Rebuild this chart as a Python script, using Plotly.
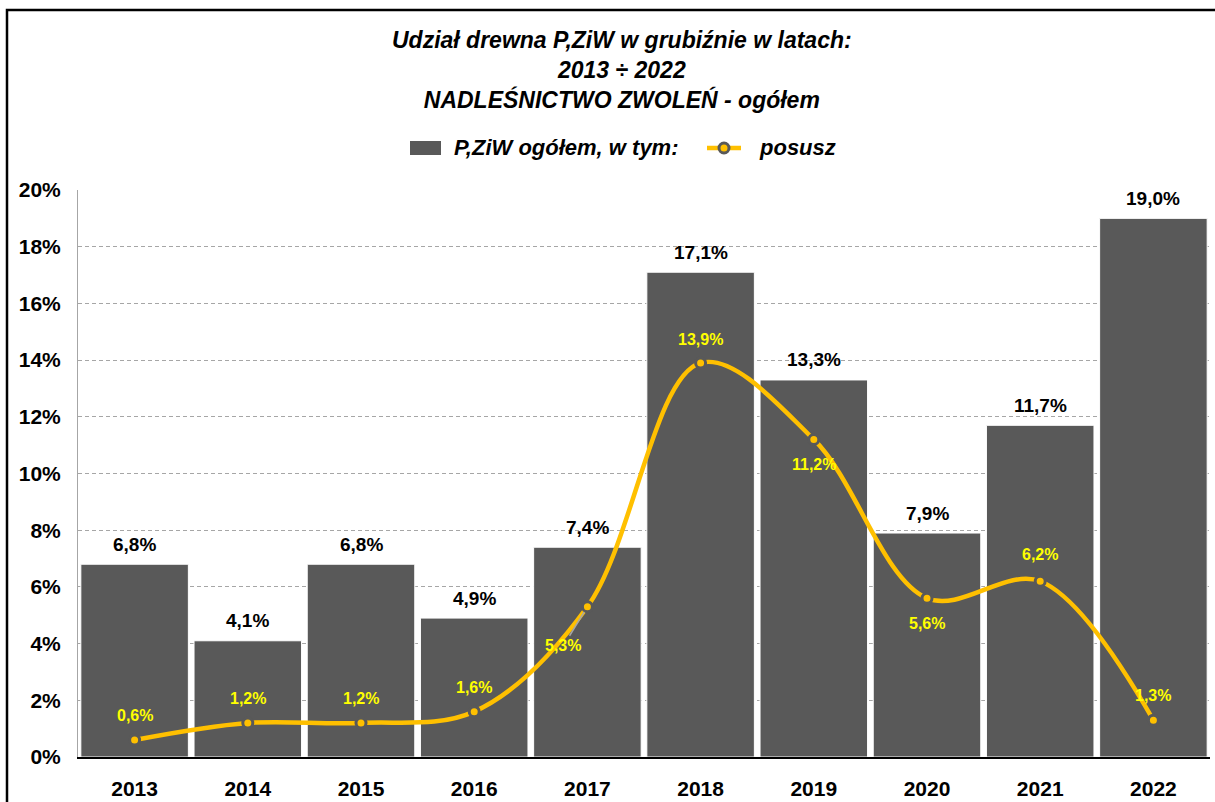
import plotly.graph_objects as go

# Lata i udziały (w ułamkach)
years = ["2013", "2014", "2015", "2016", "2017", "2018", "2019", "2020", "2021", "2022"]
pziw_total = [0.068, 0.041, 0.068, 0.049, 0.074, 0.171, 0.133, 0.079, 0.117, 0.190]
posusz = [0.006, 0.012, 0.012, 0.016, 0.053, 0.139, 0.112, 0.056, 0.062, 0.013]
# przesunięcie etykiet linii (px): dodatnie yshift = nad punktem
posusz_label_shift = [24, 24, 24, 24, -39, 23, -25, -25, 27, 25]
posusz_label_xshift = [0, 0, 0, 0, -24, 0, 0, 0, 0, 0]
# etykiety z linią odniesienia
posusz_leader = [False, False, False, False, True, False, False, False, False, False]
y_ticks = [0.00, 0.02, 0.04, 0.06, 0.08, 0.10, 0.12, 0.14, 0.16, 0.18, 0.20]

BAR_COLOR = "#595959"
LINE_COLOR = "#FFC000"
LABEL_YELLOW = "#FFFF00"
FONT = "Liberation Sans, Arial, sans-serif"

# wymiary obszaru wykresu (px) – do pozycjonowania legendy w układzie paper
W, H = 1215, 802
ML, MR, MT, MB = 78, 5, 190, 45
PW, PH = W - ML - MR, H - MT - MB


def px_x(p):
    return (p - ML) / PW


def px_y(p):
    return (H - MB - p) / PH


def pct(v):
    return f"{v * 100:.1f}%".replace(".", ",")


fig = go.Figure()

fig.add_trace(go.Bar(
    x=years,
    y=pziw_total,
    name="P,ZiW ogółem, w tym:",
    marker=dict(color=BAR_COLOR, line=dict(color="#ffffff", width=1)),
    showlegend=False,
))

fig.add_trace(go.Scatter(
    x=years,
    y=posusz,
    name="posusz",
    mode="lines+markers",
    line=dict(color=LINE_COLOR, width=4.5, shape="spline", smoothing=1.0),
    marker=dict(size=10, color=LINE_COLOR, line=dict(color=BAR_COLOR, width=3)),
    showlegend=False,
    cliponaxis=False,
))

annotations = []

# etykiety słupków (x jako indeks kategorii)
for i, v in enumerate(pziw_total):
    annotations.append(dict(
        x=i, y=v, xref="x", yref="y", text=pct(v), showarrow=False,
        yshift=20, font=dict(family=FONT, size=19, color="#000000", weight="bold"),
    ))

# etykiety linii "posusz"
label_font = dict(family=FONT, size=16, color=LABEL_YELLOW, weight="bold")
for i, (v, s, dx, lead) in enumerate(zip(posusz, posusz_label_shift,
                                         posusz_label_xshift, posusz_leader)):
    if lead:
        annotations.append(dict(
            x=i, y=v, xref="x", yref="y", text=pct(v),
            showarrow=True, ax=dx, ay=-s, axref="pixel", ayref="pixel",
            arrowhead=0, arrowwidth=1.5, arrowcolor="#a6a6a6", standoff=6,
            font=label_font,
        ))
    else:
        annotations.append(dict(
            x=i, y=v, xref="x", yref="y", text=pct(v), showarrow=False,
            xshift=dx, yshift=s, font=label_font,
        ))

# tytuł
annotations.append(dict(
    text="Udział drewna P,ZiW w grubiźnie w latach:<br>2013 ÷ 2022<br>NADLEŚNICTWO ZWOLEŃ - ogółem",
    x=px_x(622), xref="paper", xanchor="center",
    y=px_y(70), yref="paper", yanchor="middle",
    showarrow=False,
    font=dict(family=FONT, size=23, color="#000000", weight="bold", style="italic"),
))

# legenda
legend_font = dict(family=FONT, size=22, color="#000000", weight="bold", style="italic")
annotations.append(dict(
    text="P,ZiW ogółem, w tym:", x=px_x(452), xref="paper", xanchor="left",
    y=px_y(148), yref="paper", yanchor="middle", showarrow=False, font=legend_font,
))
annotations.append(dict(
    text="posusz", x=px_x(757), xref="paper", xanchor="left",
    y=px_y(148), yref="paper", yanchor="middle", showarrow=False, font=legend_font,
))

shapes = [
    # ramka wykresu
    dict(type="rect", xref="paper", yref="paper",
         x0=px_x(7), x1=px_x(1240), y0=px_y(830), y1=px_y(10),
         line=dict(color="#000000", width=2.5),
         fillcolor="rgba(0,0,0,0)", layer="below"),
    # symbol legendy: słupek
    dict(type="rect", xref="paper", yref="paper",
         x0=px_x(410), x1=px_x(441), y0=px_y(155), y1=px_y(141),
         line=dict(width=0), fillcolor=BAR_COLOR),
    # symbol legendy: linia z punktem
    dict(type="line", xref="paper", yref="paper",
         x0=px_x(707), x1=px_x(741), y0=px_y(148), y1=px_y(148),
         line=dict(color=LINE_COLOR, width=4.5)),
    dict(type="circle", xref="paper", yref="paper",
         x0=px_x(719), x1=px_x(729), y0=px_y(153), y1=px_y(143),
         line=dict(color=BAR_COLOR, width=3), fillcolor=LINE_COLOR),
]

fig.update_layout(
    width=W,
    height=H,
    margin=dict(l=ML, r=MR, t=MT, b=MB, autoexpand=False),
    paper_bgcolor="#ffffff",
    plot_bgcolor="#ffffff",
    bargap=0.05,
    showlegend=False,
    font=dict(family=FONT, color="#000000"),
    xaxis=dict(
        type="category",
        range=[-0.5, len(years) - 0.5],
        automargin=False,
        showline=True, linecolor="#000000", linewidth=2,
        ticks="", showgrid=False,
        ticklabelstandoff=12,
        tickfont=dict(family=FONT, size=21, color="#000000", weight="bold"),
    ),
    yaxis=dict(
        range=[0, 0.2],
        automargin=False,
        tickvals=y_ticks,
        tickformat=".0%",
        showline=True, linecolor="#a6a6a6", linewidth=1,
        showgrid=True, gridcolor="#a6a6a6", griddash="4px,3px", gridwidth=1,
        zeroline=False,
        ticks="", ticklen=0,
        ticklabelstandoff=12,
        tickfont=dict(family=FONT, size=21, color="#000000", weight="bold"),
    ),
    annotations=annotations,
    shapes=shapes,
)

fig.write_html("out.html")
